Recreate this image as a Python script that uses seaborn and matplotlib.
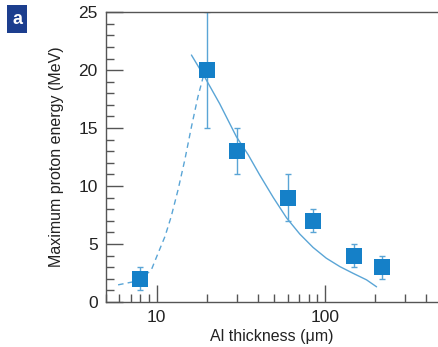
import numpy as np
import pandas as pd
import matplotlib
matplotlib.use("Agg")
import matplotlib.pyplot as plt
from matplotlib.ticker import FixedLocator, NullFormatter, FixedFormatter
import seaborn as sns

# data
thickness = [8, 20, 30, 60, 85, 150, 220]
energy = [2, 20, 13, 9, 7, 4, 3]
err_low = [1, 5, 2, 2, 1, 1, 1]
err_high = [1, 5, 2, 2, 1, 1, 1]

model_x = [16.1, 19.3, 23.7, 29.8, 35.0, 41.0, 49.4, 59.2, 71, 85.1, 102, 123, 147, 177, 203]
model_y = [21.3, 19.4, 17.1, 14.25, 12.7, 10.95, 9.0, 7.25, 5.85, 4.7, 3.77, 3.04, 2.47, 1.9, 1.3]

dash_x = [5.9, 7.9, 9.3, 10.2, 11.2, 12.2, 13.4, 14.7, 16.1, 17.6, 18.9, 20]
dash_y = [1.47, 1.84, 2.76, 4.2, 5.63, 7.35, 9.66, 12.24, 15.1, 17.7, 19.4, 20]

xticks_major = [10, 100]
xtick_labels = ["10", "100"]
yticks_major = [0, 5, 10, 15, 20, 25]

sns.set_style("ticks")
plt.rcParams['font.family'] = ['Liberation Sans', 'DejaVu Sans']

fig = plt.figure(figsize=(4.38, 3.47), dpi=100)
ax = fig.add_axes([0.242, 0.130, 0.756, 0.835])

marker_col = "#1580c8"
line_col = "#5aa5d6"

ax.errorbar(thickness, energy, yerr=[err_low, err_high], fmt="none",
            ecolor=line_col, elinewidth=1.0, capsize=2.5, capthick=1.0, zorder=2)
sns.lineplot(x=model_x, y=model_y, ax=ax, color=line_col, lw=1.0, zorder=3, sort=False)
sns.lineplot(x=dash_x, y=dash_y, ax=ax, color=line_col, lw=1.0,
             linestyle=(0, (4, 3)), zorder=3, sort=False)
sns.scatterplot(x=thickness, y=energy, ax=ax, marker="s", s=140,
                color=marker_col, edgecolor=marker_col, linewidth=0, zorder=4)

ax.set_xscale("log")
ax.set_xlim(5, 465)
ax.set_ylim(0, 25)

ax.xaxis.set_major_locator(FixedLocator(xticks_major))
ax.xaxis.set_major_formatter(FixedFormatter(xtick_labels))
minor_x = [m * d for d in (1, 10, 100) for m in range(2, 10) if 5 <= m * d <= 465]
ax.xaxis.set_minor_locator(FixedLocator(minor_x))
ax.xaxis.set_minor_formatter(NullFormatter())
ax.set_yticks(yticks_major)
ax.yaxis.set_minor_locator(FixedLocator([v for v in range(0, 26) if v % 5]))

ax.tick_params(axis="both", which="major", direction="in", length=12,
               width=1.0, color="#555555", labelsize=12.5, labelcolor="#222222", pad=6)
ax.tick_params(axis="both", which="minor", direction="in", length=6,
               width=1.0, color="#555555")
ax.tick_params(top=False, right=False, which="both")

for s in ["left", "bottom", "top"]:
    ax.spines[s].set_color("#555555")
    ax.spines[s].set_linewidth(1.0)
ax.spines["right"].set_visible(False)

ax.set_xlabel("Al thickness (\u03bcm)", fontsize=11.5, color="#222222", labelpad=3)
ax.set_ylabel("Maximum proton energy (MeV)", fontsize=11.5, color="#222222", labelpad=10)

fig.text(0.039, 0.945, "a", fontsize=13, fontweight="bold", color="white",
         ha="center", va="center",
         bbox=dict(boxstyle="square,pad=0.3", fc="#1c3e8e", ec="none"))

fig.savefig("out.png", dpi=100)
